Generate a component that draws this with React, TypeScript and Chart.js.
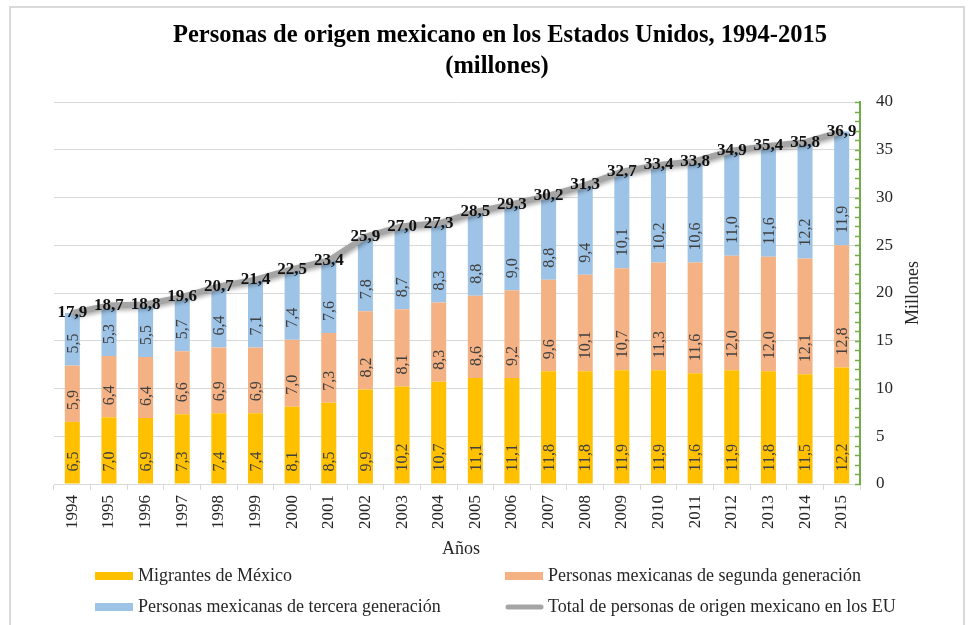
import React, { useEffect, useRef } from 'react';
import { Chart, registerables } from 'chart.js';
Chart.register(...registerables);

const years = ['1994','1995','1996','1997','1998','1999','2000','2001','2002','2003','2004','2005','2006','2007','2008','2009','2010','2011','2012','2013','2014','2015'];
const migrantes = [6.5,7.0,6.9,7.3,7.4,7.4,8.1,8.5,9.9,10.2,10.7,11.1,11.1,11.8,11.8,11.9,11.9,11.6,11.9,11.8,11.5,12.2];
const segunda = [5.9,6.4,6.4,6.6,6.9,6.9,7.0,7.3,8.2,8.1,8.3,8.6,9.2,9.6,10.1,10.7,11.3,11.6,12.0,12.0,12.1,12.8];
const tercera = [5.5,5.3,5.5,5.7,6.4,7.1,7.4,7.6,7.8,8.7,8.3,8.8,9.0,8.8,9.4,10.1,10.2,10.6,11.0,11.6,12.2,11.9];
const total = [17.9,18.7,18.8,19.6,20.7,21.4,22.5,23.4,25.9,27.0,27.3,28.5,29.3,30.2,31.3,32.7,33.4,33.8,34.9,35.4,35.8,36.9];
const seriesNames = ['Migrantes de México','Personas mexicanas de segunda generación','Personas mexicanas de tercera generación','Total de personas de origen mexicano en los EU'];
const titleLines = ['Personas de origen mexicano en los Estados Unidos, 1994-2015', '(millones)'];
const xTitle = 'Años';
const yTitle = 'Millones';

const COLORS = ['#FFC000', '#F4B183', '#9DC3E6', '#A5A5A5'];
const FONT = '"Liberation Serif", "Times New Roman", serif';
const GREEN = '#70AD47';

const fmt = (v: number) => v.toFixed(1).replace('.', ',');

const decoPlugin = {
  id: 'deco',
  beforeDatasetDraw(chart: any, args: any) {
    if (args.index === 3) {
      const ctx = chart.ctx;
      ctx.save();
      ctx.shadowColor = 'rgba(0,0,0,0.35)';
      ctx.shadowBlur = 4;
      ctx.shadowOffsetX = 1;
      ctx.shadowOffsetY = 2;
    }
  },
  afterDatasetDraw(chart: any, args: any) {
    if (args.index === 3) chart.ctx.restore();
  },
  afterDatasetsDraw(chart: any) {
    const ctx = chart.ctx;
    ctx.save();
    // segment labels
    ctx.font = `16px ${FONT}`;
    ctx.fillStyle = '#404040';
    ctx.textAlign = 'left';
    ctx.textBaseline = 'middle';
    for (let d = 0; d < 3; d++) {
      const meta = chart.getDatasetMeta(d);
      const data = chart.data.datasets[d].data as number[];
      meta.data.forEach((el: any, i: number) => {
        const base = el.base;
        ctx.save();
        ctx.translate(el.x + 1, base - 12);
        ctx.rotate(-Math.PI / 2);
        ctx.fillText(fmt(data[i]), 0, 0);
        ctx.restore();
      });
    }
    // total labels
    const lm = chart.getDatasetMeta(3);
    ctx.font = `bold 17px ${FONT}`;
    ctx.fillStyle = '#111111';
    ctx.textAlign = 'center';
    ctx.textBaseline = 'middle';
    lm.data.forEach((el: any, i: number) => {
      ctx.fillText(fmt(total[i]), el.x, el.y);
    });
    ctx.restore();
  },
  afterDraw(chart: any) {
    const ctx = chart.ctx;
    const ys = chart.scales.y;
    const area = chart.chartArea;
    ctx.save();
    // minor ticks on right axis
    ctx.strokeStyle = GREEN;
    ctx.lineWidth = 1.5;
    for (let v = 0; v <= 40; v++) {
      const y = Math.round(ys.getPixelForValue(v)) + 0.5;
      ctx.beginPath();
      ctx.moveTo(area.right - 5, y);
      ctx.lineTo(area.right, y);
      ctx.stroke();
    }
    // title
    ctx.fillStyle = '#000000';
    ctx.textAlign = 'center';
    ctx.textBaseline = 'middle';
    ctx.font = `bold 24.5px ${FONT}`;
    ctx.fillText(titleLines[0], 500, 36);
    ctx.fillText(titleLines[1], 497, 67);
    // x title
    ctx.font = `18px ${FONT}`;
    ctx.fillStyle = '#262626';
    ctx.fillText(xTitle, 461, 549);
    // y title
    ctx.save();
    ctx.translate(913, (area.top + area.bottom) / 2);
    ctx.rotate(-Math.PI / 2);
    ctx.fillText(yTitle, 0, 0);
    ctx.restore();
    // legend
    const items = [
      { x: 95, y: 576, c: 0 },
      { x: 505, y: 576, c: 1 },
      { x: 95, y: 607, c: 2 },
      { x: 505, y: 607, c: 3 },
    ];
    ctx.textAlign = 'left';
    items.forEach((it) => {
      if (it.c < 3) {
        ctx.fillStyle = COLORS[it.c];
        ctx.fillRect(it.x, it.y - 4, 38, 8);
      } else {
        ctx.strokeStyle = COLORS[3];
        ctx.lineWidth = 5;
        ctx.lineCap = 'round';
        ctx.beginPath();
        ctx.moveTo(it.x + 3, it.y);
        ctx.lineTo(it.x + 36, it.y);
        ctx.stroke();
      }
      ctx.fillStyle = '#262626';
      ctx.fillText(seriesNames[it.c], it.x + 43, it.y);
    });
    ctx.restore();
  },
};

export default function App() {
  const ref = useRef<HTMLCanvasElement | null>(null);
  useEffect(() => {
    if (!ref.current) return;
    const chart = new Chart(ref.current, {
      type: 'bar',
      data: {
        labels: years,
        datasets: [
          { type: 'bar', label: seriesNames[0], data: migrantes, backgroundColor: COLORS[0], stack: 'bars', order: 2, barPercentage: 0.41, categoryPercentage: 1 },
          { type: 'bar', label: seriesNames[1], data: segunda, backgroundColor: COLORS[1], stack: 'bars', order: 2, barPercentage: 0.41, categoryPercentage: 1 },
          { type: 'bar', label: seriesNames[2], data: tercera, backgroundColor: COLORS[2], stack: 'bars', order: 2, barPercentage: 0.41, categoryPercentage: 1 },
          { type: 'line', label: seriesNames[3], data: total, borderColor: COLORS[3], borderWidth: 6, pointRadius: 0, tension: 0, stack: 'line', order: 0, fill: false } as any,
        ],
      },
      options: {
        responsive: false,
        animation: false,
        layout: { padding: { left: 54, right: 0, top: 102, bottom: 0 } },
        plugins: { legend: { display: false }, title: { display: false }, tooltip: { enabled: false } },
        scales: {
          x: {
            stacked: true,
            grid: { display: true, drawOnChartArea: false, offset: true, color: '#d9d9d9', tickLength: 6 },
            border: { color: '#d9d9d9', width: 1 },
            ticks: { minRotation: 90, maxRotation: 90, padding: 5, color: '#262626', font: { family: FONT, size: 17 }, autoSkip: false },
            afterFit: (s: any) => { s.height = 141; },
          },
          y: {
            position: 'right',
            stacked: true,
            min: 0,
            max: 40,
            ticks: { stepSize: 5, padding: 16, color: '#262626', font: { family: FONT, size: 17 } },
            grid: { color: '#d9d9d9', drawTicks: false },
            border: { color: GREEN, width: 2 },
            afterFit: (s: any) => { s.width = 113; },
          },
        },
      },
      plugins: [decoPlugin],
    } as any);
    return () => chart.destroy();
  }, []);
  return (
    <div style={{ position: 'absolute', left: 0, top: 0, width: 973, height: 625, overflow: 'hidden', background: '#fff' }}>
      <div style={{ position: 'absolute', left: 9, top: 6, width: 952, height: 640, border: '2px solid #d9d9d9' }} />
      <canvas ref={ref} width={973} height={625} style={{ position: 'absolute', left: 0, top: 0 }} />
    </div>
  );
}
